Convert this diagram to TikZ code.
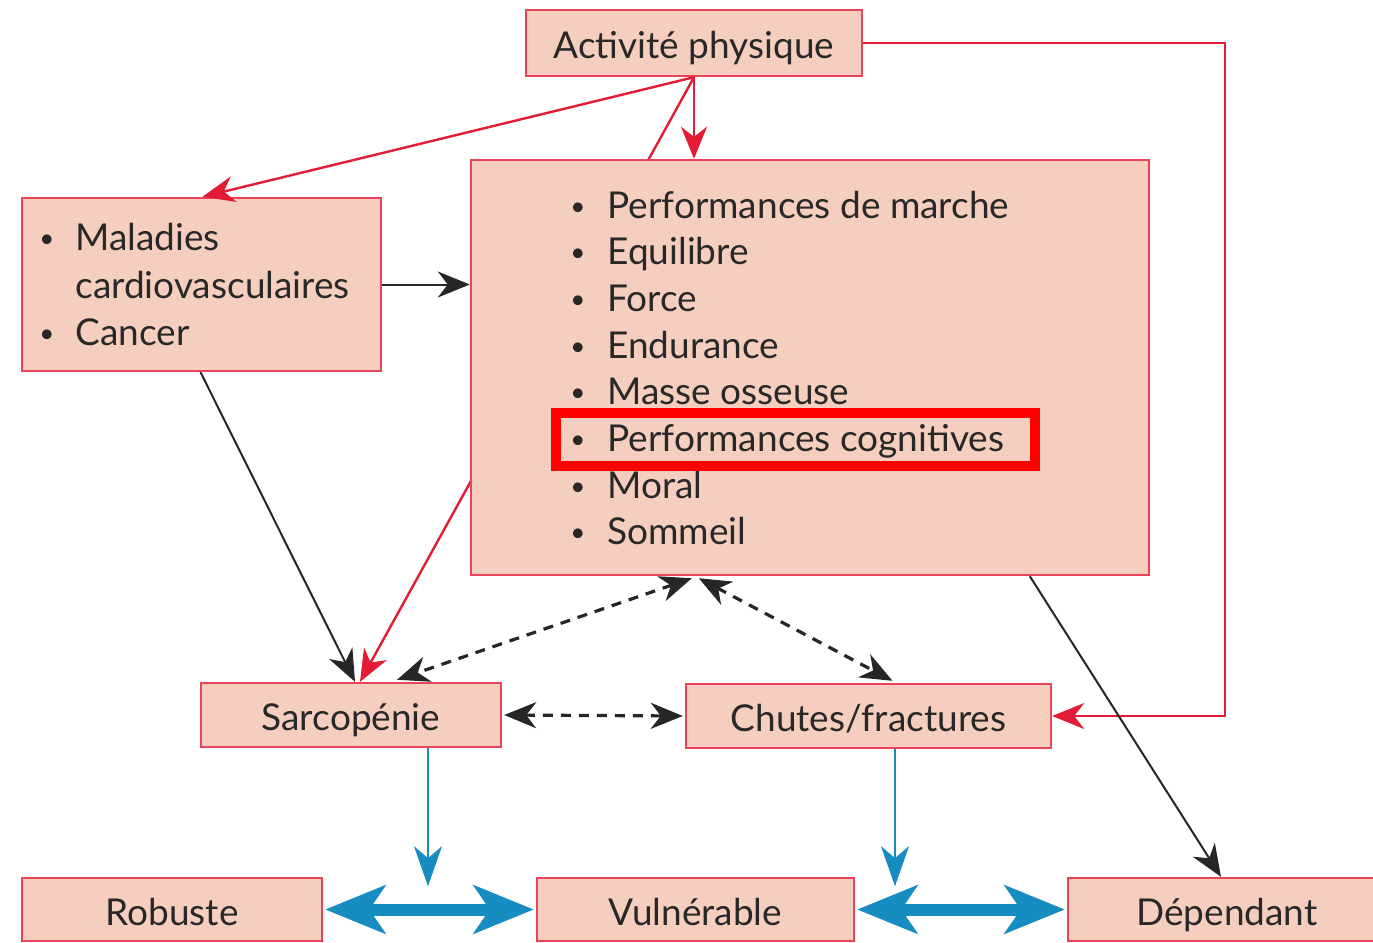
\documentclass[tikz,border=0pt]{standalone}
\usepackage{fontspec}
\setmainfont{Lato}
\usetikzlibrary{arrows.meta,calc,backgrounds}
\definecolor{boxfill}{RGB}{246,206,192}
\definecolor{boxline}{RGB}{232,70,88}
\definecolor{redline}{RGB}{226,28,52}
\definecolor{blueline}{RGB}{22,140,192}
\definecolor{txt}{RGB}{40,40,40}
\definecolor{hlred}{RGB}{255,0,0}
\tikzset{
  box/.style={draw=boxline, fill=boxfill, line width=1.2pt, inner sep=0pt, rectangle, text=txt, text height=18.5pt, text depth=3pt},
  lbl/.style={inner sep=0pt, text=txt, anchor=base west},
  bul/.style={inner sep=0pt, text=txt, anchor=base, font=\fontsize{13}{15}\selectfont},
  tipR/.style={-{Stealth[length=16pt,width=13pt,inset=5pt]}},
  redarrow/.style={draw=redline, line width=1.2pt},
  blackarrow/.style={draw=black!85, line width=1pt},
  dasharrow/.style={draw=black!85, line width=1.6pt, dash pattern=on 5pt off 4pt, {Stealth[length=16pt,width=13pt,inset=5pt]}-{Stealth[length=16pt,width=13pt,inset=5pt]}},
  bluearrow/.style={draw=blueline, line width=1.1pt, -{Stealth[length=20pt,width=14pt,inset=6pt]}},
  bigblue/.style={draw=blueline, line width=6pt, {Stealth[length=30pt,width=24pt,inset=8pt]}-{Stealth[length=30pt,width=24pt,inset=8pt]}},
}
\begin{document}
\begin{tikzpicture}[x=0.5pt,y=-0.5pt,font=\fontsize{18.5}{22}\selectfont]
\useasboundingbox (0,0) rectangle (1373,943);
\clip (0,0) rectangle (1373,943);
% boxes
\node[box, minimum width=168pt, minimum height=33pt] (act) at (694,43) {Activité physique};
\node[box, minimum width=179.5pt, minimum height=86.5pt] (mal) at (201.5,284.5) {};
\node[box, minimum width=339pt, minimum height=207.5pt] (big) at (810,367.5) {};
\node[box, minimum width=150pt, minimum height=32pt] (sar) at (351,715) {Sarcopénie};
\node[box, minimum width=182.5pt, minimum height=32pt] (chu) at (868.5,716) {Chutes/fractures};
\node[box, minimum width=150pt, minimum height=31.5pt] (rob) at (172,909.5) {Robuste};
\node[box, minimum width=158.5pt, minimum height=31.5pt] (vul) at (695.5,909.5) {Vulnérable};
\node[box, minimum width=166pt, minimum height=31.5pt] (dep) at (1234,909.5) {Dépendant\hspace*{7pt}};
% maladies list
\node[bul] (mb1) at (47,247) {•};
\node[lbl] (mt1) at (75,250) {Maladies};
\node[lbl] (mt2) at (75,298) {cardiovasculaires};
\node[bul] (mb3) at (47,342) {•};
\node[lbl] (mt3) at (75,345) {Cancer};
% big list
\foreach \t [count=\i from 0] in {Performances de marche,Equilibre,Force,Endurance,Masse osseuse,Performances cognitives,Moral,Sommeil}{
  \node[bul] (bb\i) at (578,{215+46.7*\i}) {•};
  \node[lbl] (bt\i) at (607,{218+46.7*\i}) {\t};
}
% highlight
\node[draw=hlred, line width=5pt, minimum width=239.5pt, minimum height=26.5pt, inner sep=0pt] (hl) at (795.5,439.5) {};
% connectors
\begin{pgfonlayer}{background}
\draw[redarrow, tipR] (act.south) -- ($(sar.north)+(9,0)$);
\end{pgfonlayer}
\draw[redarrow, tipR] (act.south) -- ($(mal.north)+(1,0)$);
\draw[redarrow, tipR] (act.south) -- (act.south |- big.north);
\draw[redarrow, tipR] (act.east) -- ++(362,0) |- (chu.east);
\draw[blackarrow, tipR] (mal.east) -- (mal.east -| big.west);
\draw[blackarrow, tipR] ($(mal.south)+(-1,0)$) -- ($(sar.north)+(4,0)$);
\draw[blackarrow, tipR] ($(big.south west)+(560,0)$) -- ($(dep.north)+(-13,0)$);
\draw[dasharrow] ($(big.south west)+(222,2)$) -- ($(sar.north)+(46,-2)$);
\draw[dasharrow] ($(big.south west)+(229,2)$) -- ($(chu.north)+(24,-2)$);
\draw[dasharrow] ($(sar.east)+(2,0)$) -- ($(chu.west)+(-2,0)$);
\draw[bluearrow] ($(sar.south)+(77,0)$) -- ++(0,138);
\draw[bluearrow] ($(chu.south)+(26.5,0)$) -- ++(0,137);
\draw[bigblue] ($(rob.east)+(2,0)$) -- ($(vul.west)+(-2,0)$);
\draw[bigblue] ($(vul.east)+(2,0)$) -- ($(dep.west)+(-2,0)$);
\end{tikzpicture}
\end{document}
